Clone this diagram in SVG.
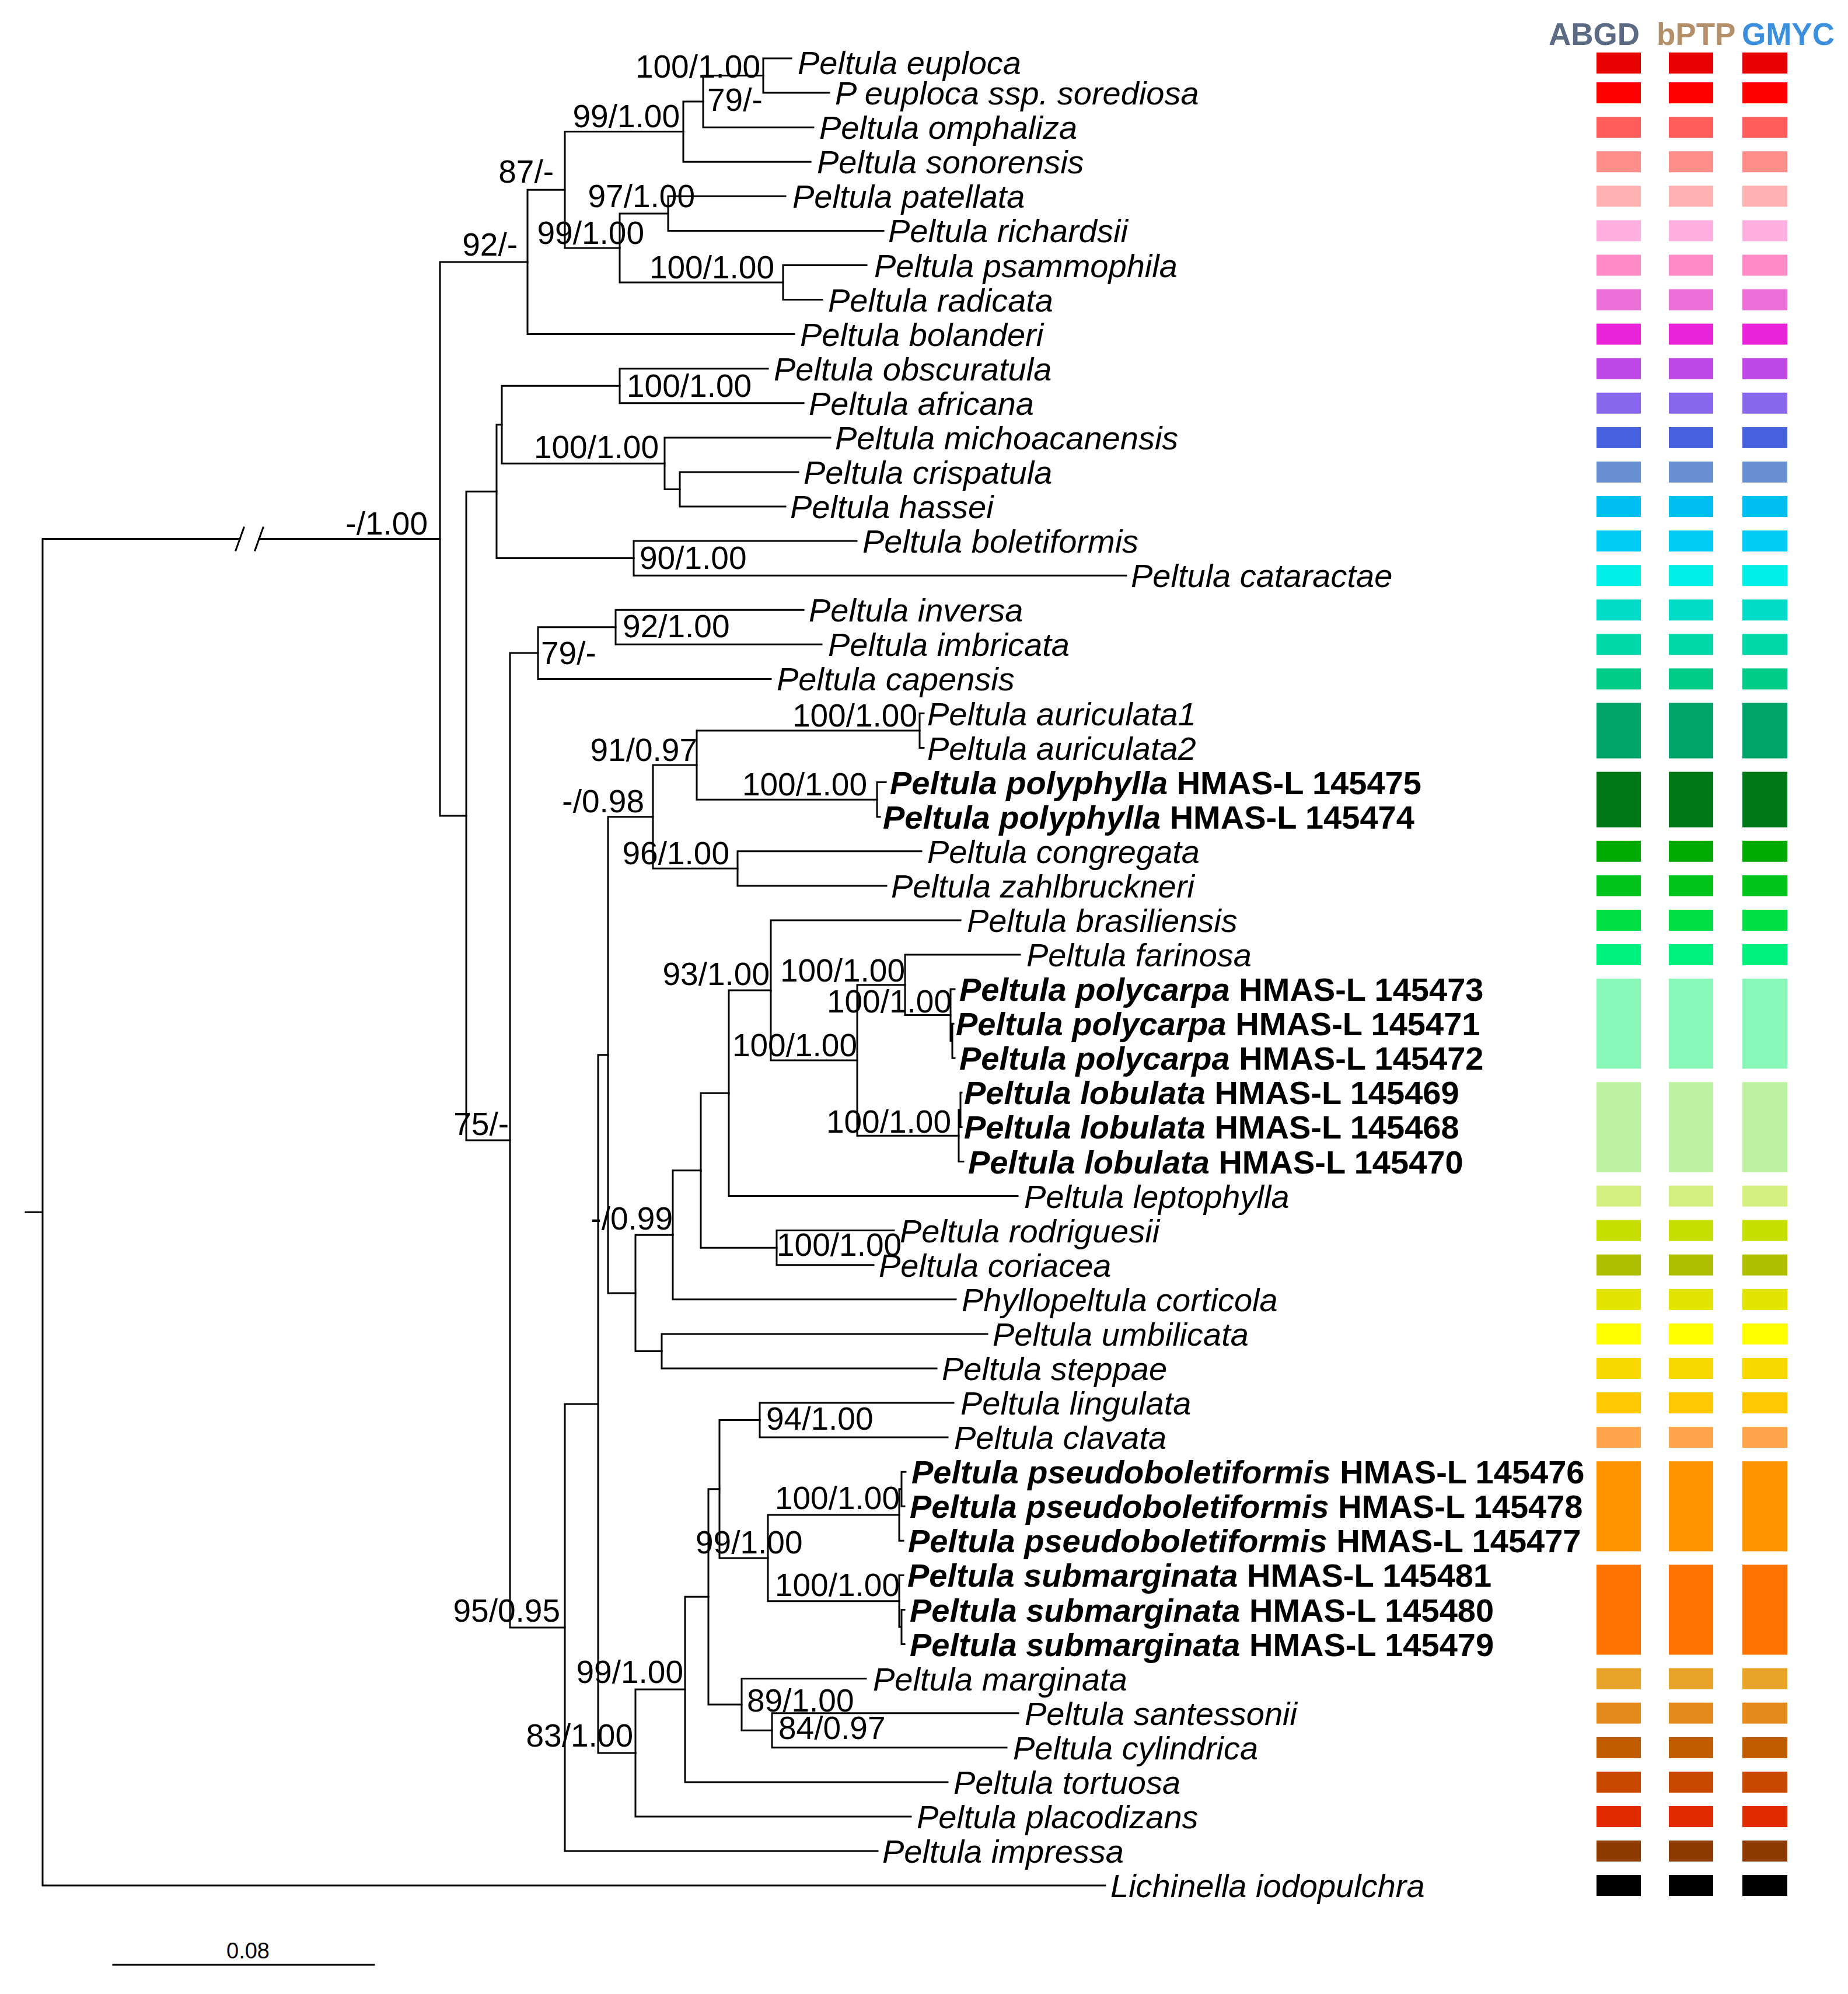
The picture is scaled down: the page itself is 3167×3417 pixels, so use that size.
<svg xmlns="http://www.w3.org/2000/svg" width="3167" height="3417" viewBox="0 0 3167 3417">
<style>
.br{fill:none;stroke:#000;stroke-width:3;stroke-linecap:square}
.tx{font-family:"Liberation Sans",Arial,sans-serif;font-size:56px;font-style:italic;fill:#000}
.bd{font-weight:bold}
.up{font-style:normal}
.sup{font-family:"Liberation Sans",Arial,sans-serif;font-size:55px;fill:#000}
.hd{font-family:"Liberation Sans",Arial,sans-serif;font-size:53px;font-weight:bold}
.e{text-anchor:end}
</style>
<rect width="3167" height="3417" fill="#fff"/>

<g id="branches" class="br">
<path d="M44,2077.3H73 M73,923.5V3231.1 M73,923.5H411 M444,923.5H754 M73,3231.1H1894"/>
<path d="M404,943L418,904 M437,943L451,904"/>
<path d="M754,448.9V1398.1 M754,448.9H904 M754,1398.1H799"/>
<path d="M904,325.2V572.6 M904,325.2H968 M904,572.6H1361"/>
<path d="M968,225.5V425 M968,225.5H1171 M968,425H1062"/>
<path d="M1171,173.9V277.2 M1171,173.9H1205 M1171,277.2H1389"/>
<path d="M1205,129.5V218.2 M1205,129.5H1308 M1205,218.2H1394"/>
<path d="M1308,100V159.1 M1308,100H1356 M1308,159.1H1421"/>
<path d="M1062,365.9V484 M1062,365.9H1145 M1062,484H1342"/>
<path d="M1145,336.3V395.4 M1145,336.3H1346 M1145,395.4H1514"/>
<path d="M1342,454.5V513.6 M1342,454.5H1485 M1342,513.6H1409"/>
<path d="M799,842.2V1954 M799,842.2H851 M799,1954H874"/>
<path d="M851,727.7V956.6 M851,727.7H860 M851,956.6H1086"/>
<path d="M860,661.2V794.2 M860,661.2H1062 M860,794.2H1139"/>
<path d="M1062,631.7V690.8 M1062,631.7H1316 M1062,690.8H1377"/>
<path d="M1139,749.9V838.5 M1139,749.9H1423 M1139,838.5H1165"/>
<path d="M1165,808.9V868 M1165,808.9H1368 M1165,868H1346"/>
<path d="M1086,927.1V986.2 M1086,927.1H1468 M1086,986.2H1930"/>
<path d="M874,1119.1V2789 M874,1119.1H922 M874,2789H968"/>
<path d="M922,1074.8V1163.4 M922,1074.8H1055 M922,1163.4H1321"/>
<path d="M1055,1045.3V1104.3 M1055,1045.3H1377 M1055,1104.3H1408"/>
<path d="M968,2405.9V3172 M968,2405.9H1025 M968,3172H1504"/>
<path d="M1025,1807.8V3004 M1025,1807.8H1042 M1025,3004H1089"/>
<path d="M1042,1399.7V2215.9 M1042,1399.7H1119 M1042,2215.9H1089"/>
<path d="M1119,1311.1V1488.3 M1119,1311.1H1194 M1119,1488.3H1264"/>
<path d="M1194,1252V1370.2 M1194,1252H1576 M1194,1370.2H1503"/>
<path d="M1576,1222.5V1281.6 M1576,1222.5H1583 M1576,1281.6H1583"/>
<path d="M1503,1340.6V1399.7 M1503,1340.6H1518 M1503,1399.7H1508"/>
<path d="M1264,1458.8V1517.9 M1264,1458.8H1579 M1264,1517.9H1519"/>
<path d="M1089,2116.3V2315.4 M1089,2116.3H1153 M1089,2315.4H1134"/>
<path d="M1153,2005.7V2226.8 M1153,2005.7H1201 M1153,2226.8H1638"/>
<path d="M1201,1873.3V2138.2 M1201,1873.3H1249 M1201,2138.2H1331"/>
<path d="M1249,1697V2049.6 M1249,1697H1321 M1249,2049.6H1744"/>
<path d="M1321,1577V1817 M1321,1577H1646 M1321,1817H1469"/>
<path d="M1469,1687.7V1946.2 M1469,1687.7H1551 M1469,1946.2H1643"/>
<path d="M1551,1636V1739.4 M1551,1636H1748 M1551,1739.4H1629"/>
<path d="M1629,1695.1V1783.7 M1629,1695.1H1636 M1629,1783.7H1632 M1632,1754.2V1813.3 M1632,1754.2H1634 M1632,1813.3H1636"/>
<path d="M1643,1901.9V1990.5 M1643,1901.9H1646 M1646,1872.3V1931.4 M1646,1872.3H1648 M1646,1931.4H1648 M1643,1990.5H1651"/>
<path d="M1331,2108.6V2167.7 M1331,2108.6H1532 M1331,2167.7H1497"/>
<path d="M1134,2285.9V2345 M1134,2285.9H1692 M1134,2345H1605"/>
<path d="M1089,2895.1V3113 M1089,2895.1H1174 M1089,3113H1561"/>
<path d="M1174,2736.3V3053.9 M1174,2736.3H1214 M1174,3053.9H1624"/>
<path d="M1214,2551.7V2921 M1214,2551.7H1233 M1214,2921H1271"/>
<path d="M1233,2433.6V2669.9 M1233,2433.6H1302 M1233,2669.9H1316"/>
<path d="M1302,2404V2463.1 M1302,2404H1634 M1302,2463.1H1624"/>
<path d="M1316,2596V2743.7 M1316,2596H1541 M1316,2743.7H1541"/>
<path d="M1541,2551.7V2640.3 M1541,2551.7H1545 M1545,2522.2V2581.3 M1545,2522.2H1552 M1545,2581.3H1550 M1541,2640.3H1548"/>
<path d="M1541,2699.4V2788 M1541,2699.4H1548 M1541,2788H1545 M1545,2758.5V2817.6 M1545,2758.5H1550 M1545,2817.6H1550"/>
<path d="M1271,2876.6V2965.3 M1271,2876.6H1484 M1271,2965.3H1323"/>
<path d="M1323,2935.7V2994.8 M1323,2935.7H1745 M1323,2994.8H1725"/>
</g>

<g id="support-values">
<g id="n-root-ingroup"><text class="sup e" x="733" y="916">-/1.00</text></g>
<g id="n-92"><text class="sup e" x="887" y="438">92/-</text></g>
<g id="n-87"><text class="sup e" x="949" y="313">87/-</text></g>
<g id="n-99a"><text class="sup e" x="1165" y="218">99/1.00</text></g>
<g id="n-79a"><text class="sup" x="1212" y="190">79/-</text></g>
<g id="n-euploca"><text class="sup e" x="1303" y="133">100/1.00</text></g>
<g id="n-99b"><text class="sup e" x="1104" y="418">99/1.00</text></g>
<g id="n-97"><text class="sup e" x="1191" y="355">97/1.00</text></g>
<g id="n-psammophila"><text class="sup e" x="1327" y="477">100/1.00</text></g>
<g id="n-obscuratula"><text class="sup" x="1074" y="680">100/1.00</text></g>
<g id="n-michoacanensis"><text class="sup e" x="1129" y="785">100/1.00</text></g>
<g id="n-90"><text class="sup" x="1096" y="975">90/1.00</text></g>
<g id="n-92b"><text class="sup" x="1067" y="1092">92/1.00</text></g>
<g id="n-79b"><text class="sup" x="927" y="1138">79/-</text></g>
<g id="n-75"><text class="sup e" x="872" y="1945">75/-</text></g>
<g id="n-auriculata"><text class="sup e" x="1572" y="1245">100/1.00</text></g>
<g id="n-91"><text class="sup e" x="1195" y="1304">91/0.97</text></g>
<g id="n-polyphylla"><text class="sup e" x="1486" y="1363">100/1.00</text></g>
<g id="n-098"><text class="sup e" x="1104" y="1392">-/0.98</text></g>
<g id="n-96"><text class="sup e" x="1250" y="1481">96/1.00</text></g>
<g id="n-93"><text class="sup e" x="1319" y="1688">93/1.00</text></g>
<g id="n-farinosa"><text class="sup e" x="1551" y="1682">100/1.00</text></g>
<g id="n-polycarpa"><text class="sup e" x="1631" y="1735">100/1.00</text></g>
<g id="n-polycarpa-lobulata"><text class="sup e" x="1469" y="1810">100/1.00</text></g>
<g id="n-lobulata"><text class="sup e" x="1630" y="1941">100/1.00</text></g>
<g id="n-099"><text class="sup e" x="1153" y="2107">-/0.99</text></g>
<g id="n-rodriguesii"><text class="sup" x="1331" y="2152">100/1.00</text></g>
<g id="n-94"><text class="sup" x="1313" y="2450">94/1.00</text></g>
<g id="n-pseudoboletiformis"><text class="sup e" x="1542" y="2586">100/1.00</text></g>
<g id="n-99c"><text class="sup" x="1192" y="2662">99/1.00</text></g>
<g id="n-submarginata"><text class="sup e" x="1542" y="2735">100/1.00</text></g>
<g id="n-95"><text class="sup e" x="960" y="2779">95/0.95</text></g>
<g id="n-99d"><text class="sup e" x="1171" y="2884">99/1.00</text></g>
<g id="n-89"><text class="sup" x="1280" y="2933">89/1.00</text></g>
<g id="n-84"><text class="sup" x="1334" y="2980">84/0.97</text></g>
<g id="n-83"><text class="sup e" x="1085" y="2993">83/1.00</text></g>
</g>

<g id="tips">
<g id="t01"><text class="tx" x="1367" y="127">Peltula euploca</text></g>
<g id="t02"><text class="tx" x="1431" y="179.1">P euploca ssp. sorediosa</text></g>
<g id="t03"><text class="tx" x="1404" y="238.2">Peltula omphaliza</text></g>
<g id="t04"><text class="tx" x="1400" y="297.2">Peltula sonorensis</text></g>
<g id="t05"><text class="tx" x="1358" y="356.3">Peltula patellata</text></g>
<g id="t06"><text class="tx" x="1522" y="415.4">Peltula richardsii</text></g>
<g id="t07"><text class="tx" x="1498" y="474.5">Peltula psammophila</text></g>
<g id="t08"><text class="tx" x="1419" y="533.6">Peltula radicata</text></g>
<g id="t09"><text class="tx" x="1371" y="592.6">Peltula bolanderi</text></g>
<g id="t10"><text class="tx" x="1326" y="651.7">Peltula obscuratula</text></g>
<g id="t11"><text class="tx" x="1386" y="710.8">Peltula africana</text></g>
<g id="t12"><text class="tx" x="1431" y="769.9">Peltula michoacanensis</text></g>
<g id="t13"><text class="tx" x="1377" y="828.9">Peltula crispatula</text></g>
<g id="t14"><text class="tx" x="1354" y="888">Peltula hassei</text></g>
<g id="t15"><text class="tx" x="1478" y="947.1">Peltula boletiformis</text></g>
<g id="t16"><text class="tx" x="1938" y="1006.2">Peltula cataractae</text></g>
<g id="t17"><text class="tx" x="1386" y="1065.3">Peltula inversa</text></g>
<g id="t18"><text class="tx" x="1419" y="1124.3">Peltula imbricata</text></g>
<g id="t19"><text class="tx" x="1331" y="1183.4">Peltula capensis</text></g>
<g id="t20"><text class="tx" x="1589" y="1242.5">Peltula auriculata1</text></g>
<g id="t21"><text class="tx" x="1589" y="1301.6">Peltula auriculata2</text></g>
<g id="t22"><text class="tx bd" x="1525" y="1360.6">Peltula polyphylla<tspan class="up"> HMAS-L 145475</tspan></text></g>
<g id="t23"><text class="tx bd" x="1513" y="1419.7">Peltula polyphylla<tspan class="up"> HMAS-L 145474</tspan></text></g>
<g id="t24"><text class="tx" x="1589" y="1478.8">Peltula congregata</text></g>
<g id="t25"><text class="tx" x="1527" y="1537.9">Peltula zahlbruckneri</text></g>
<g id="t26"><text class="tx" x="1657" y="1597">Peltula brasiliensis</text></g>
<g id="t27"><text class="tx" x="1759" y="1656">Peltula farinosa</text></g>
<g id="t28"><text class="tx bd" x="1644" y="1715.1">Peltula polycarpa<tspan class="up"> HMAS-L 145473</tspan></text></g>
<g id="t29"><text class="tx bd" x="1638" y="1774.2">Peltula polycarpa<tspan class="up"> HMAS-L 145471</tspan></text></g>
<g id="t30"><text class="tx bd" x="1644" y="1833.3">Peltula polycarpa<tspan class="up"> HMAS-L 145472</tspan></text></g>
<g id="t31"><text class="tx bd" x="1652" y="1892.3">Peltula lobulata<tspan class="up"> HMAS-L 145469</tspan></text></g>
<g id="t32"><text class="tx bd" x="1652" y="1951.4">Peltula lobulata<tspan class="up"> HMAS-L 145468</tspan></text></g>
<g id="t33"><text class="tx bd" x="1659" y="2010.5">Peltula lobulata<tspan class="up"> HMAS-L 145470</tspan></text></g>
<g id="t34"><text class="tx" x="1755" y="2069.6">Peltula leptophylla</text></g>
<g id="t35"><text class="tx" x="1542" y="2128.6">Peltula rodriguesii</text></g>
<g id="t36"><text class="tx" x="1506" y="2187.7">Peltula coriacea</text></g>
<g id="t37"><text class="tx" x="1648" y="2246.8">Phyllopeltula corticola</text></g>
<g id="t38"><text class="tx" x="1701" y="2305.9">Peltula umbilicata</text></g>
<g id="t39"><text class="tx" x="1614" y="2365">Peltula steppae</text></g>
<g id="t40"><text class="tx" x="1646" y="2424">Peltula lingulata</text></g>
<g id="t41"><text class="tx" x="1635" y="2483.1">Peltula clavata</text></g>
<g id="t42"><text class="tx bd" x="1562" y="2542.2">Peltula pseudoboletiformis<tspan class="up"> HMAS-L 145476</tspan></text></g>
<g id="t43"><text class="tx bd" x="1559" y="2601.3">Peltula pseudoboletiformis<tspan class="up"> HMAS-L 145478</tspan></text></g>
<g id="t44"><text class="tx bd" x="1556" y="2660.3">Peltula pseudoboletiformis<tspan class="up"> HMAS-L 145477</tspan></text></g>
<g id="t45"><text class="tx bd" x="1555" y="2719.4">Peltula submarginata<tspan class="up"> HMAS-L 145481</tspan></text></g>
<g id="t46"><text class="tx bd" x="1559" y="2778.5">Peltula submarginata<tspan class="up"> HMAS-L 145480</tspan></text></g>
<g id="t47"><text class="tx bd" x="1559" y="2837.6">Peltula submarginata<tspan class="up"> HMAS-L 145479</tspan></text></g>
<g id="t48"><text class="tx" x="1496" y="2896.6">Peltula marginata</text></g>
<g id="t49"><text class="tx" x="1756" y="2955.7">Peltula santessonii</text></g>
<g id="t50"><text class="tx" x="1736" y="3014.8">Peltula cylindrica</text></g>
<g id="t51"><text class="tx" x="1634" y="3073.9">Peltula tortuosa</text></g>
<g id="t52"><text class="tx" x="1571" y="3133">Peltula placodizans</text></g>
<g id="t53"><text class="tx" x="1512" y="3192">Peltula impressa</text></g>
<g id="t54"><text class="tx" x="1903" y="3251.1">Lichinella iodopulchra</text></g>
</g>

<g id="delimitation-header">
<text class="hd" x="2654" y="77" fill="#5b6b84">ABGD</text>
<text class="hd" x="2839" y="77" fill="#b4906b">bPTP</text>
<text class="hd" x="2985" y="77" fill="#3b8fdc">GMYC</text>
</g>

<defs>
<g id="row36"><rect x="2736" y="0" width="76" height="36"/><rect x="2860" y="0" width="76" height="36"/><rect x="2986" y="0" width="77" height="36"/></g>
<g id="row95"><rect x="2736" y="0" width="76" height="95.1"/><rect x="2860" y="0" width="76" height="95.1"/><rect x="2986" y="0" width="77" height="95.1"/></g>
<g id="row154"><rect x="2736" y="0" width="76" height="154.2"/><rect x="2860" y="0" width="76" height="154.2"/><rect x="2986" y="0" width="77" height="154.2"/></g>
</defs>

<g id="delimitation-bars">
<use href="#row36" y="90" fill="#e60000"/>
<use href="#row36" y="141.1" fill="#ff0000"/>
<use href="#row36" y="200.2" fill="#ff5c5c"/>
<use href="#row36" y="259.2" fill="#ff8e8a"/>
<use href="#row36" y="318.3" fill="#ffb2b2"/>
<use href="#row36" y="377.4" fill="#ffb0e0"/>
<use href="#row36" y="436.5" fill="#ff8ac6"/>
<use href="#row36" y="495.6" fill="#ec70d8"/>
<use href="#row36" y="554.6" fill="#e823d8"/>
<use href="#row36" y="613.7" fill="#bd48e6"/>
<use href="#row36" y="672.8" fill="#8866ee"/>
<use href="#row36" y="731.9" fill="#4660e0"/>
<use href="#row36" y="790.9" fill="#6a90d4"/>
<use href="#row36" y="850" fill="#00bff2"/>
<use href="#row36" y="909.1" fill="#00ccf5"/>
<use href="#row36" y="968.2" fill="#00f0e8"/>
<use href="#row36" y="1027.3" fill="#00dcc8"/>
<use href="#row36" y="1086.3" fill="#00d8aa"/>
<use href="#row36" y="1145.4" fill="#00cc88"/>
<use href="#row95" y="1204.5" fill="#00a468"/>
<use href="#row95" y="1322.6" fill="#007818"/>
<use href="#row36" y="1440.8" fill="#00aa00"/>
<use href="#row36" y="1499.9" fill="#00c41a"/>
<use href="#row36" y="1559" fill="#00e044"/>
<use href="#row36" y="1618" fill="#00f07e"/>
<use href="#row154" y="1677.1" fill="#88f7b8"/>
<use href="#row154" y="1854.3" fill="#bdf3a2"/>
<use href="#row36" y="2031.6" fill="#d4f080"/>
<use href="#row36" y="2090.6" fill="#c6df00"/>
<use href="#row36" y="2149.7" fill="#adbf00"/>
<use href="#row36" y="2208.8" fill="#e3e300"/>
<use href="#row36" y="2267.9" fill="#ffff00"/>
<use href="#row36" y="2327" fill="#f8d800"/>
<use href="#row36" y="2386" fill="#ffc800"/>
<use href="#row36" y="2445.1" fill="#ffa64c"/>
<use href="#row154" y="2504.2" fill="#ff9400"/>
<use href="#row154" y="2681.4" fill="#ff7400"/>
<use href="#row36" y="2858.6" fill="#e8a428"/>
<use href="#row36" y="2917.7" fill="#e48a1c"/>
<use href="#row36" y="2976.8" fill="#bf5c00"/>
<use href="#row36" y="3035.9" fill="#c84800"/>
<use href="#row36" y="3095" fill="#e02c00"/>
<use href="#row36" y="3154" fill="#8c3a00"/>
<use href="#row36" y="3213.1" fill="#000000"/>
</g>

<g id="scale-bar">
<path class="br" d="M194,3367H641"/>
<text x="425" y="3356" text-anchor="middle" font-family="Liberation Sans, Arial, sans-serif" font-size="38">0.08</text>
</g>
</svg>
